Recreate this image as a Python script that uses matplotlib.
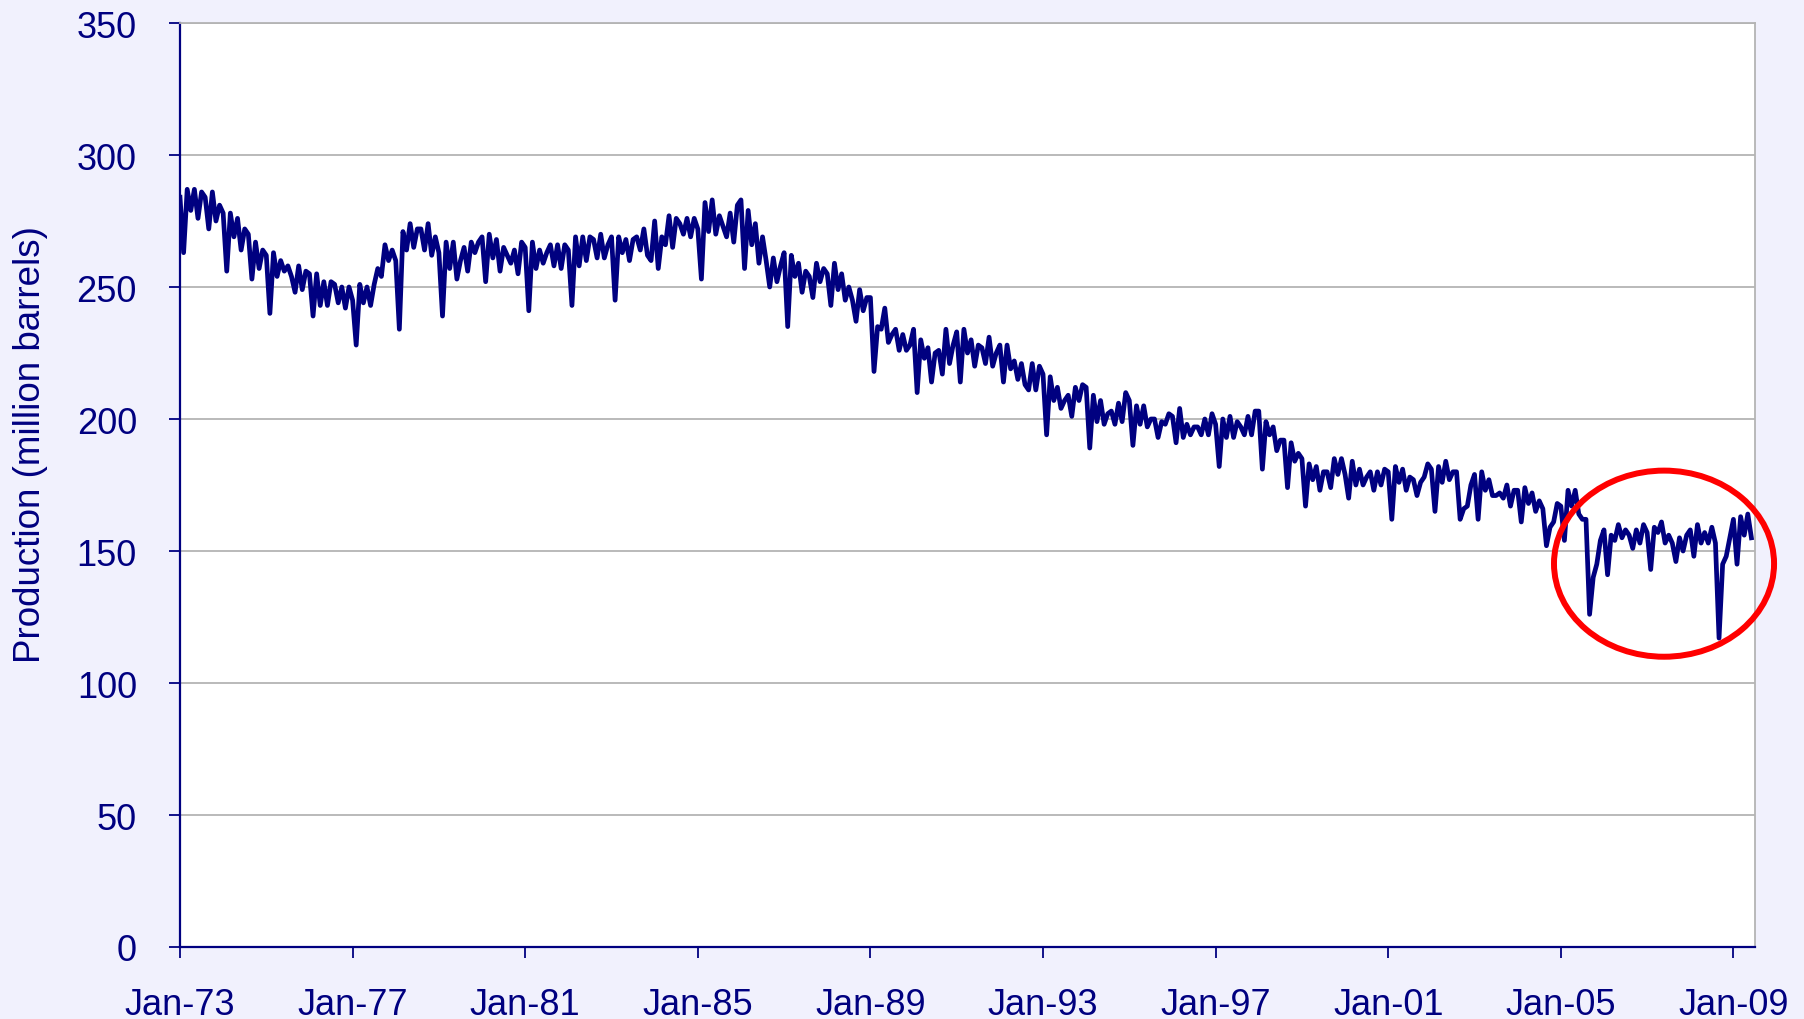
import matplotlib.pyplot as plt
import numpy as np
from matplotlib.patches import Ellipse

# monthly production, million barrels, Jan-1973 .. Jun-2009
PROD_1970S = [
	284, 263, 287, 279, 287, 276, 286, 284, 272, 286, 275, 281,
	278, 256, 278, 269, 276, 264, 272, 270, 253, 267, 257, 264,
	262, 240, 263, 254, 260, 256, 258, 254, 248, 258, 249, 256,
	255, 239, 255, 243, 252, 243, 252, 251, 244, 250, 242, 250,
	245, 228, 251, 244, 250, 243, 251, 257, 254, 266, 260, 264,
	260, 234, 271, 264, 274, 265, 272, 272, 264, 274, 262, 269,
	263, 239, 267, 257, 267, 253, 260, 265, 256, 267, 263, 267,
]
PROD_1980S = [
	269, 252, 270, 261, 268, 256, 265, 262, 259, 264, 255, 267,
	265, 241, 267, 257, 264, 259, 263, 266, 258, 266, 257, 266,
	264, 243, 269, 258, 269, 260, 269, 268, 261, 270, 261, 266,
	269, 245, 269, 263, 268, 260, 268, 269, 264, 272, 262, 260,
	275, 257, 269, 266, 277, 265, 276, 274, 270, 276, 269, 276,
	272, 253, 282, 271, 283, 270, 277, 273, 269, 278, 267, 281,
	283, 257, 279, 266, 274, 259, 269, 260, 250, 261, 252, 258,
	263, 235, 262, 254, 259, 248, 256, 254, 246, 259, 252, 257,
	255, 243, 259, 249, 255, 245, 250, 245, 237, 249, 241, 246,
	246, 218, 235, 234, 242, 229, 232, 234, 226, 232, 226, 228,
]
PROD_1990S = [
	234, 210, 230, 223, 227, 214, 225, 226, 217, 234, 221, 228,
	233, 214, 234, 225, 230, 220, 228, 227, 221, 231, 220, 225,
	228, 214, 228, 219, 222, 215, 221, 213, 211, 221, 211, 220,
	217, 194, 216, 207, 212, 204, 207, 209, 201, 212, 207, 213,
	212, 189, 209, 199, 207, 198, 202, 203, 198, 206, 199, 210,
	207, 190, 205, 198, 205, 197, 200, 200, 193, 199, 198, 202,
	201, 191, 204, 193, 198, 194, 197, 197, 194, 200, 194, 202,
	198, 182, 200, 193, 201, 193, 199, 197, 194, 201, 194, 203,
	203, 181, 199, 194, 197, 188, 192, 192, 174, 191, 184, 187,
	185, 167, 183, 177, 182, 173, 180, 180, 174, 185, 179, 185,
]
PROD_2000S = [
	179, 170, 184, 175, 181, 175, 178, 180, 173, 180, 175, 181,
	180, 162, 182, 176, 181, 173, 178, 177, 171, 176, 178, 183,
	181, 165, 182, 176, 184, 177, 180, 180, 162, 166, 167, 175,
	179, 162, 180, 173, 177, 171, 171, 172, 170, 175, 167, 173,
	173, 161, 174, 168, 172, 165, 169, 166, 152, 159, 161, 168,
	167, 154, 173, 167, 173, 164, 162, 162, 126, 140, 145, 154,
	158, 141, 156, 154, 160, 155, 158, 156, 151, 158, 153, 160,
	157, 143, 159, 157, 161, 153, 156, 153, 146, 155, 150, 156,
	158, 148, 160, 153, 157, 153, 159, 153, 117, 145, 148, 155,
	162, 145, 163, 156, 164, 155,
]

X_TICK_LABELS = ['Jan-73', 'Jan-77', 'Jan-81', 'Jan-85', 'Jan-89',
				 'Jan-93', 'Jan-97', 'Jan-01', 'Jan-05', 'Jan-09']
Y_TICKS = [0, 50, 100, 150, 200, 250, 300, 350]

NAVY = '#000080'
GRID = '#b4b4b4'

if __name__ == '__main__':
	plt.rcParams['font.family'] = ['Liberation Sans', 'DejaVu Sans']
	plt.rcParams['font.size'] = 26

	production = PROD_1970S + PROD_1980S + PROD_1990S + PROD_2000S
	months = np.arange(len(production))

	fig = plt.figure(figsize=(18.04, 10.20), dpi=100, facecolor='#f1f1fd')
	ax = fig.add_axes([180 / 1804, 1 - 948 / 1020, 1575 / 1804, 924 / 1020])
	ax.set_facecolor('white')

	ax.plot(months, production, color=NAVY, linewidth=3.4,
			solid_joinstyle='round', zorder=3)

	ax.set_xlim(0, len(production))
	ax.set_ylim(0, 350)

	# x ticks every 4 years, months counted from Jan-73
	tick_pos = [12 * ((int(s[-2:]) - 73) % 100) for s in X_TICK_LABELS]
	ax.set_xticks(tick_pos)
	ax.set_xticklabels(X_TICK_LABELS)
	ax.set_yticks(Y_TICKS)

	ax.grid(axis='y', color=GRID, linewidth=1.3, zorder=1)
	ax.tick_params(colors=NAVY, labelcolor=NAVY, direction='out',
				   length=8, width=1.3, labelsize=26)
	ax.tick_params(axis='y', pad=23)
	ax.tick_params(axis='x', pad=21)

	for side in ['left', 'bottom']:
		ax.spines[side].set_color(NAVY)
		ax.spines[side].set_linewidth(1.6)
	for side in ['top', 'right']:
		ax.spines[side].set_color(GRID)
		ax.spines[side].set_linewidth(1.3)

	fig.text(31 / 1804, 1 - 445 / 1020, 'Production (million barrels)',
			 rotation=90, ha='center', va='center', color=NAVY, fontsize=26.5)

	# red ring around the post-2005 section
	ring = Ellipse((412.7, 145.2), 61.2, 70.5, fill=False, edgecolor='#ff0000',
				   linewidth=4.3, clip_on=False, zorder=4)
	ax.add_patch(ring)

	plt.savefig('out.png', dpi=100, facecolor=fig.get_facecolor())
